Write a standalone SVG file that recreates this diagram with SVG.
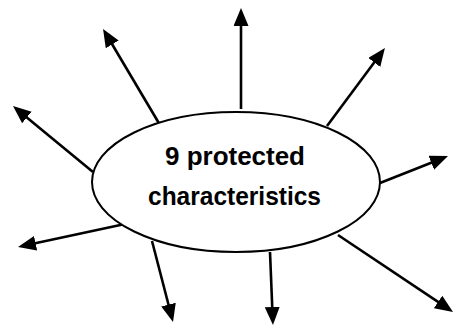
<svg xmlns="http://www.w3.org/2000/svg" width="456" height="328" viewBox="0 0 456 328">
<style>
.conn line{stroke:#000;stroke-width:2.6;marker-end:url(#ah)}
.lbl{font-family:"Liberation Sans",Arial,sans-serif;font-weight:bold;font-size:26px;fill:#000;text-anchor:middle}
</style>
<defs>
<marker id="ah" markerUnits="userSpaceOnUse" markerWidth="20" markerHeight="16" refX="4" refY="7.5" orient="auto">
<path d="M0,0 L18,7.5 L0,15 z" fill="#000"/>
</marker>
</defs>
<rect width="456" height="328" fill="#fff"/>
<g id="connectors" class="conn">
<line x1="160" y1="125" x2="110.2" y2="41"/>
<line x1="93" y1="172" x2="23.8" y2="114.9"/>
<line x1="241" y1="109" x2="241" y2="22"/>
<line x1="327" y1="126" x2="376.6" y2="59.2"/>
<line x1="380" y1="183" x2="435" y2="161.2"/>
<line x1="338" y1="235" x2="441.4" y2="304.2"/>
<line x1="270" y1="252" x2="272.4" y2="311"/>
<line x1="152" y1="241" x2="169.5" y2="308.5"/>
<line x1="125" y1="224" x2="31.7" y2="244.1"/>
</g>
<g id="center">
<ellipse cx="236" cy="182" rx="144" ry="70" fill="#fff" stroke="#000" stroke-width="2"/>
<text class="lbl" x="235" y="165" textLength="140" lengthAdjust="spacingAndGlyphs">9 protected</text>
<text class="lbl" x="234.5" y="205" textLength="173" lengthAdjust="spacingAndGlyphs">characteristics</text>
</g>
</svg>
